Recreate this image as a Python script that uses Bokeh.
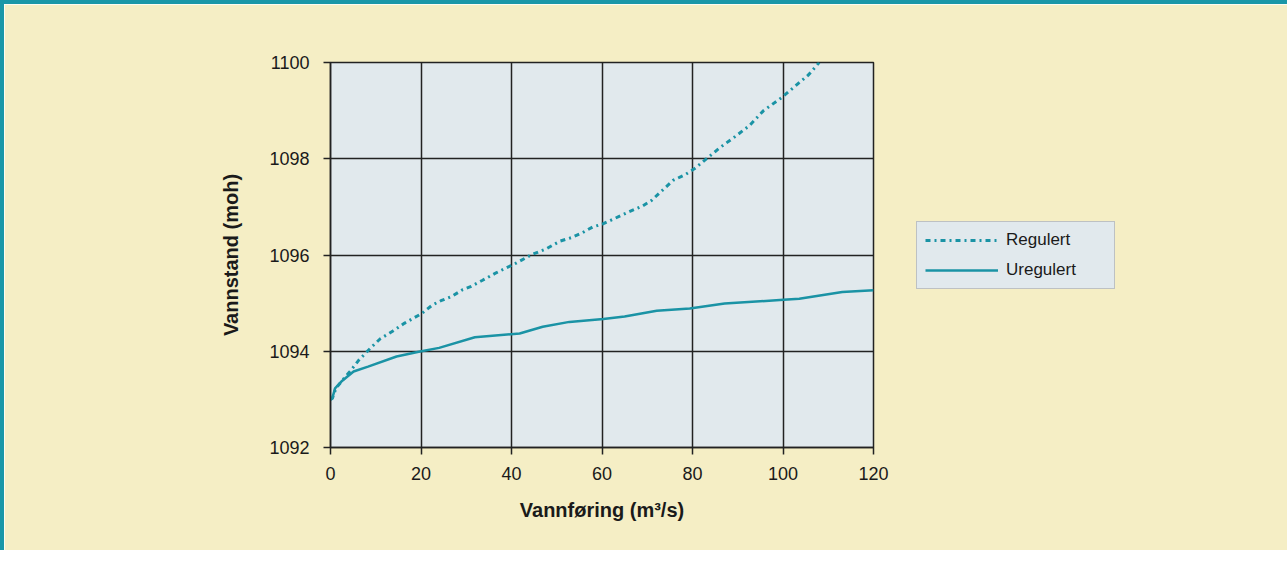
from bokeh.plotting import figure
from bokeh.models import Legend, LegendItem, FixedTicker, Range1d
from bokeh.embed import file_html
from bokeh.resources import INLINE

# Data
reg_x = [0.0, 0.4, 1.2, 2.4, 4.3, 6.3, 9.1, 11.0, 13.8, 16.3, 20.1, 22.5, 24.4, 26.8, 29.2,
         31.1, 33.5, 36.6, 41.0, 44.5, 47.7, 50.8, 53.2, 55.6, 57.9, 60.3, 62.6, 65.8,
         69.0, 70.9, 72.5, 75.7, 78.4, 80.4, 83.5, 85.9, 89.4, 92.6, 93.8, 95.7, 99.7,
         103.2, 105.6, 108.0]
reg_y = [1093.0, 1093.02, 1093.23, 1093.37, 1093.58, 1093.82, 1094.09, 1094.26, 1094.42,
         1094.58, 1094.78, 1094.96, 1095.05, 1095.14, 1095.28, 1095.35, 1095.47, 1095.63,
         1095.83, 1096.01, 1096.13, 1096.29, 1096.36, 1096.46, 1096.58, 1096.65, 1096.75,
         1096.89, 1097.02, 1097.13, 1097.27, 1097.55, 1097.67, 1097.79, 1098.03, 1098.22,
         1098.46, 1098.69, 1098.81, 1099.00, 1099.27, 1099.55, 1099.74, 1100.0]

ureg_x = [0.0, 0.4, 1.0, 2.4, 5.1, 8.3, 14.6, 19.5, 24.0, 31.9, 41.8, 46.9, 52.8, 60.3,
          65.0, 72.1, 79.4, 87.1, 100.1, 103.6, 113.1, 120.0]
ureg_y = [1093.0, 1093.02, 1093.23, 1093.37, 1093.58, 1093.68, 1093.89, 1093.99, 1094.07,
          1094.29, 1094.37, 1094.51, 1094.61, 1094.67, 1094.72, 1094.84, 1094.89, 1094.99,
          1095.07, 1095.09, 1095.23, 1095.27]

x_ticks = [0, 20, 40, 60, 80, 100, 120]
y_ticks = [1092, 1094, 1096, 1098, 1100]

CREAM = "#F5EEC5"
PLOTBG = "#E1E9ED"
TEAL = "#1A93A5"
DARK = "#222222"
FONT = "Liberation Sans"

p = figure(width=1275, frame_width=543, frame_height=385, output_backend="svg",
           toolbar_location=None,
           x_range=Range1d(0, 120), y_range=Range1d(1092, 1100),
           min_border_left=326, min_border_right=0, min_border_top=58,
           min_border_bottom=103)
p.styles = {"border-left": "4px solid #1A97A8", "border-top": "4px solid #1A97A8",
            "border-right": "4px solid #1A97A8"}

p.background_fill_color = PLOTBG
p.border_fill_color = CREAM
p.outline_line_color = DARK
p.outline_line_width = 1.5

for ax in (p.xaxis[0], p.yaxis[0]):
    ax.axis_line_color = DARK
    ax.axis_line_width = 1.5
    ax.major_tick_line_color = DARK
    ax.major_tick_line_width = 1.5
    ax.major_tick_in = 0
    ax.major_tick_out = 7
    ax.minor_tick_line_color = None
    ax.major_label_text_font = FONT
    ax.major_label_text_font_size = "18px"
    ax.major_label_text_color = "#1a1a1a"
    ax.axis_label_text_font = FONT
    ax.axis_label_text_font_style = "bold"
    ax.axis_label_text_font_size = "20px"
    ax.axis_label_text_color = "#1a1a1a"

p.xaxis[0].ticker = FixedTicker(ticks=x_ticks)
p.yaxis[0].ticker = FixedTicker(ticks=y_ticks)
p.xaxis[0].major_label_standoff = 12
p.yaxis[0].major_label_standoff = 14
p.xaxis[0].axis_label = "Vannføring (m³/s)"
p.yaxis[0].axis_label = "Vannstand (moh)"
p.xaxis[0].axis_label_standoff = 16
p.yaxis[0].axis_label_standoff = 24

p.xgrid[0].ticker = FixedTicker(ticks=x_ticks)
p.ygrid[0].ticker = FixedTicker(ticks=y_ticks)
for g in (p.xgrid[0], p.ygrid[0]):
    g.grid_line_color = DARK
    g.grid_line_width = 1.5

r_reg = p.line(reg_x, reg_y, line_color=TEAL, line_width=3, line_dash="5 4 2 4")
r_ureg = p.line(ureg_x, ureg_y, line_color=TEAL, line_width=2.5)

legend = Legend(items=[LegendItem(label="Regulert", renderers=[r_reg]),
                       LegendItem(label="Uregulert", renderers=[r_ureg])],
                location="center_left", orientation="vertical")
legend.background_fill_color = PLOTBG
legend.background_fill_alpha = 1
legend.border_line_color = "#999999"
legend.border_line_width = 1.5
legend.label_text_font = FONT
legend.label_text_font_size = "17px"
legend.label_text_color = "#1a1a1a"
legend.glyph_width = 73
legend.glyph_height = 20
legend.label_height = 20
legend.label_width = 100
legend.label_standoff = 8
legend.spacing = 10
legend.padding = 8
legend.margin = 43
p.add_layout(legend, "right")

open("out.html", "w").write(file_html(p, INLINE))
